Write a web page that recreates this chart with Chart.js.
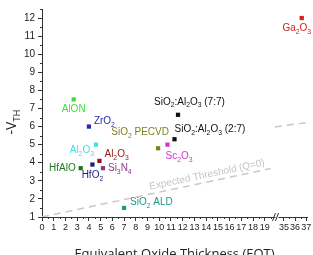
<!DOCTYPE html>
<html>
<head>
<meta charset="utf-8">
<script src="https://cdn.jsdelivr.net/npm/chart.js@4.4.1/dist/chart.umd.min.js"></script>
<style>
  html, body { margin: 0; padding: 0; background: #fff; }
  #wrap { width: 313px; height: 255px; }
</style>
</head>
<body>
<div id="wrap"><canvas id="chart"></canvas></div>
<script>
// data ('_' marks the next char as subscript)
const materials = ['AlON', 'ZrO_2', 'Al_2O_3', 'Al_2O_3', 'HfO_2', 'HfAlO', 'Si_3N_4',
  'SiO_2 ALD', 'SiO_2 PECVD', 'Sc_2O_3', 'SiO_2:Al_2O_3 (2:7)', 'SiO_2:Al_2O_3 (7:7)', 'Ga_2O_3'];
const eotValues = [2.7, 4.0, 4.6, 4.9, 4.3, 3.3, 5.2, 7.0, 9.9, 10.7, 11.3, 11.6, 36.6];
const vthValues = [7.5, 6.0, 5.0, 4.1, 3.9, 3.7, 3.7, 1.5, 4.8, 5.0, 5.3, 6.65, 12.0];
const pointColors = ['#3fdc3f', '#2a2ab0', '#3fe0ea', '#8c1a1a', '#1e1e78', '#1f7a1f', '#8a3a8a',
  '#1a9a8a', '#808020', '#d830d8', '#111111', '#111111', '#d42020'];

// expected threshold line (broken axis -> two pieces)
const thresholdLowEot = [0, 19.5];
const thresholdLowVth = [1.0, 3.68];
const thresholdHighEot = [34.2, 37.0];
const thresholdHighVth = [5.98, 6.22];

const xTickValues = [0, 1, 2, 3, 4, 5, 6, 7, 8, 9, 10, 11, 12, 13, 14, 15, 16, 17, 18, 19, 35, 36, 37];
const xTickLabels = xTickValues.map(String);
const yTickValues = [1, 2, 3, 4, 5, 6, 7, 8, 9, 10, 11, 12];

// label placement relative to each point: dx, dy, align
const labelOffsets = [
  [0, 10, 'center'], [5, -5, 'left'], [-2, 6, 'right'], [5, -7, 'left'], [0, 11, 'center'],
  [-5, 0, 'right'], [5, 0, 'left'], [6, -6, 'left'], [-18, -16, 'center'], [-2, 12, 'left'],
  [0, -10, 'left'], [-24, -13, 'left'], [-5, 10, 'center']
];

// broken x axis: 0..19 then 35..37 squeezed after the break
function mapEot(v) {
  return v <= 20 ? v : 20.63 + (v - 35) * 0.95;
}

const FONT = "'Liberation Sans', Arial, sans-serif";

function parseRich(text) {
  const parts = [];
  for (let i = 0; i < text.length; i++) {
    if (text[i] === '_') {
      parts.push({ t: text[i + 1], sub: true });
      i++;
    } else if (parts.length && !parts[parts.length - 1].sub) {
      parts[parts.length - 1].t += text[i];
    } else {
      parts.push({ t: text[i], sub: false });
    }
  }
  return parts;
}

function drawRich(ctx, text, x, y, size, align, family) {
  const parts = parseRich(text);
  const subSize = size * 0.68;
  let w = 0;
  parts.forEach(p => {
    ctx.font = (p.sub ? subSize : size) + 'px ' + family;
    p.w = ctx.measureText(p.t).width;
    w += p.w;
  });
  let cx = align === 'center' ? x - w / 2 : align === 'right' ? x - w : x;
  ctx.textAlign = 'left';
  ctx.textBaseline = 'middle';
  parts.forEach(p => {
    ctx.font = (p.sub ? subSize : size) + 'px ' + family;
    ctx.fillText(p.t, cx, p.sub ? y + size * 0.38 : y);
    cx += p.w;
  });
}

const decorations = {
  id: 'decorations',
  afterDraw(chart) {
    const ctx = chart.ctx;
    const xs = chart.scales.x, ys = chart.scales.y;
    const area = chart.chartArea;
    ctx.save();

    // minor ticks
    ctx.strokeStyle = '#333';
    ctx.lineWidth = 1;
    ctx.beginPath();
    for (let v = 0.5; v < 19.6; v += 1) {
      const px = Math.round(xs.getPixelForValue(mapEot(v))) + 0.5;
      ctx.moveTo(px, area.bottom); ctx.lineTo(px, area.bottom + 2);
    }
    [35.5, 36.5].forEach(v => {
      const px = Math.round(xs.getPixelForValue(mapEot(v))) + 0.5;
      ctx.moveTo(px, area.bottom); ctx.lineTo(px, area.bottom + 2);
    });
    for (let v = 1.5; v < 12.6; v += 1) {
      const py = Math.round(ys.getPixelForValue(v)) + 0.5;
      ctx.moveTo(area.left, py); ctx.lineTo(area.left - 2, py);
    }
    ctx.stroke();

    // axis break mark
    const bx = xs.getPixelForValue(20.0);
    ctx.fillStyle = '#fff';
    ctx.fillRect(bx - 1, area.bottom - 2, 3, 4);
    ctx.beginPath();
    ctx.moveTo(bx - 4, area.bottom + 4); ctx.lineTo(bx - 1, area.bottom - 4);
    ctx.moveTo(bx - 1, area.bottom + 4); ctx.lineTo(bx + 2, area.bottom - 4);
    ctx.stroke();

    // point labels
    eotValues.forEach((e, i) => {
      const px = xs.getPixelForValue(mapEot(e));
      const py = ys.getPixelForValue(vthValues[i]);
      const [dx, dy, align] = labelOffsets[i];
      ctx.fillStyle = pointColors[i];
      drawRich(ctx, materials[i], px + dx, py + dy, 10, align, FONT);
    });

    // threshold caption along the dashed line
    const x0 = xs.getPixelForValue(mapEot(thresholdLowEot[0]));
    const y0 = ys.getPixelForValue(thresholdLowVth[0]);
    const x1 = xs.getPixelForValue(mapEot(thresholdLowEot[1]));
    const y1 = ys.getPixelForValue(thresholdLowVth[1]);
    const ang = Math.atan2(y1 - y0, x1 - x0);
    const t = 14.2 / thresholdLowEot[1];
    ctx.translate(x0 + (x1 - x0) * t, y0 + (y1 - y0) * t);
    ctx.rotate(ang);
    ctx.fillStyle = '#c4c4c4';
    ctx.font = '10px ' + FONT;
    ctx.textAlign = 'center';
    ctx.textBaseline = 'bottom';
    ctx.fillText('Expected Threshold (Q=0)', 0, -2);
    ctx.setTransform(1, 0, 0, 1, 0, 0);

    // y axis title with subscript
    ctx.translate(12, (area.top + area.bottom) / 2 + 9);
    ctx.rotate(-Math.PI / 2);
    ctx.fillStyle = '#222';
    drawRich(ctx, '-V_T_H', 0, 0, 14, 'center', "'Open Sans', sans-serif");
    ctx.restore();
  }
};

const pointData = eotValues.map((e, i) => ({ x: mapEot(e), y: vthValues[i] }));
const lowLine = thresholdLowEot.map((e, i) => ({ x: mapEot(e), y: thresholdLowVth[i] }));
const highLine = thresholdHighEot.map((e, i) => ({ x: mapEot(e), y: thresholdHighVth[i] }));

const dashStyle = {
  type: 'line', showLine: true, borderColor: '#c8c8c8', borderWidth: 1.5,
  borderDash: [7, 5], pointRadius: 0, fill: false
};

new Chart(document.getElementById('chart'), {
  type: 'scatter',
  data: {
    datasets: [
      Object.assign({ data: lowLine }, dashStyle),
      Object.assign({ data: highLine }, dashStyle),
      {
        data: pointData,
        pointStyle: 'rect',
        pointRadius: 3,
        borderWidth: 0,
        backgroundColor: pointColors,
        pointBackgroundColor: pointColors
      }
    ]
  },
  options: {
    responsive: true,
    maintainAspectRatio: false,
    animation: false,
    layout: { padding: { top: 7, right: 6, left: 0, bottom: 0 } },
    plugins: { legend: { display: false }, tooltip: { enabled: false } },
    scales: {
      x: {
        type: 'linear', min: 0, max: 22.6,
        afterBuildTicks: s => { s.ticks = xTickValues.map(v => ({ value: mapEot(v) })); },
        afterFit: s => { s.height = 38; },
        ticks: {
          autoSkip: false, maxRotation: 0, minRotation: 0, padding: 1, color: '#222',
          font: { family: FONT, size: 9 },
          callback: (v, i) => xTickLabels[i]
        },
        grid: { drawOnChartArea: false, tickLength: 4, color: '#333' },
        border: { color: '#333', width: 1 },
        title: {
          display: true, text: 'Equivalent Oxide Thickness (EOT)', color: '#222',
          font: { family: "'Open Sans', sans-serif", size: 13 },
          padding: { top: 0, bottom: -7.5 }
        }
      },
      y: {
        type: 'linear', min: 1, max: 12.5,
        afterBuildTicks: s => { s.ticks = yTickValues.map(v => ({ value: v })); },
        afterFit: s => { s.width = 42; },
        ticks: { padding: 3, color: '#222', font: { family: FONT, size: 10 } },
        grid: { drawOnChartArea: false, tickLength: 4, color: '#333' },
        border: { color: '#333', width: 1 }
      }
    }
  },
  plugins: [decorations]
});
</script>
</body>
</html>
